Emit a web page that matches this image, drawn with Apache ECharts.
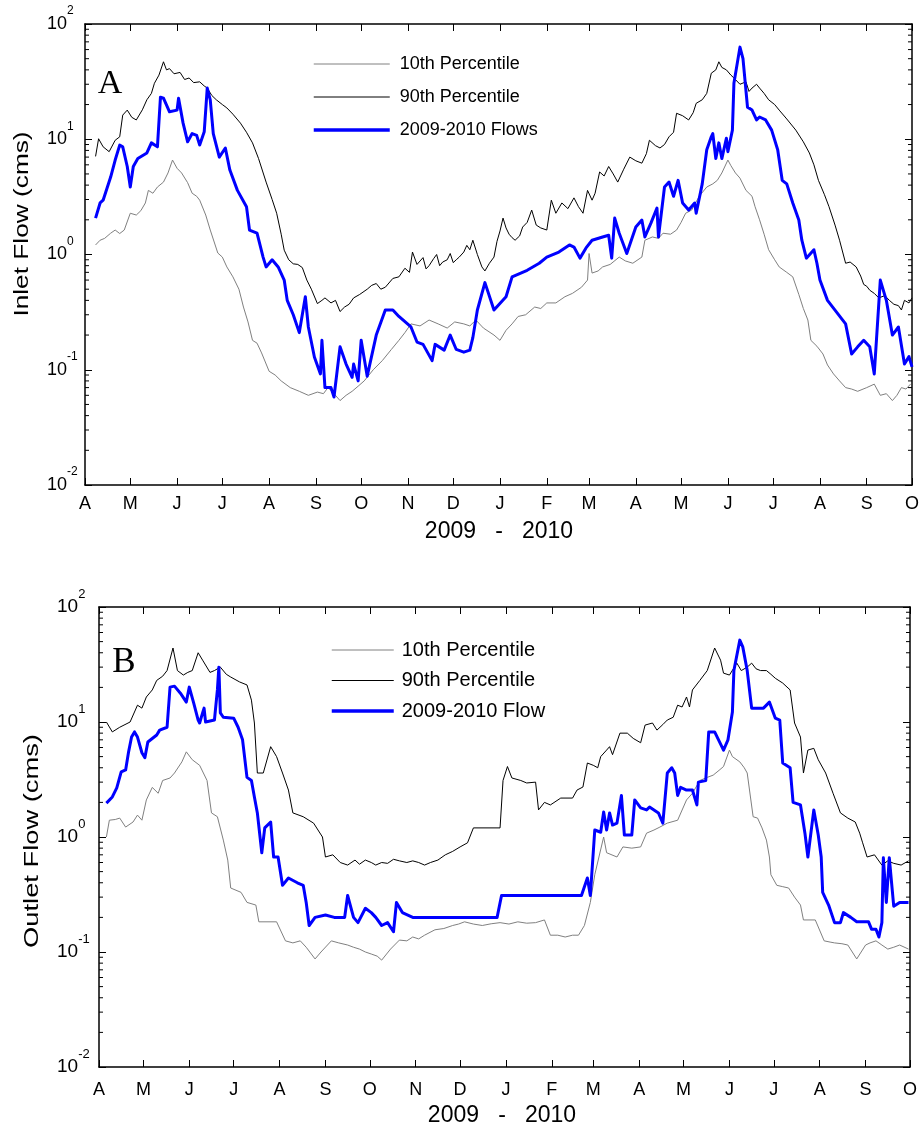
<!DOCTYPE html>
<html>
<head>
<meta charset="utf-8">
<script src="https://cdn.jsdelivr.net/npm/echarts@6/dist/echarts.min.js"></script>
<style>
  html, body { margin: 0; padding: 0; background: #fff; }
  #chart { width: 922px; height: 1128px; }
</style>
</head>
<body>
<div id="chart"></div>
<script>
// Daily axis: day 0 = 1 April 2009, day 548 = 1 October 2010
const dayCount = 549;
const monthLabels = ['A','M','J','J','A','S','O','N','D','J','F','M','A','M','J','J','A','S','O'];
const monthStartDays = [0,30,61,91,122,153,183,214,244,275,306,334,365,395,426,456,487,518,548];

// Flow series, [day, flow in cms]
const inletP10 = [[7,1.21],[10,1.33],[13,1.38],[17,1.53],[20,1.63],[23,1.52],[26,1.63],[30,2.28],[34,2.2],[37,2.4],[40,2.8],[42,3.6],[45,3.4],[48,3.85],[52,4.25],[55,5.1],[58,6.6],[61,5.6],[64,5.1],[68,4.2],[71,3.4],[74,3.2],[76,2.96],[80,2.2],[83,1.63],[88,1.03],[91,0.95],[94,0.78],[98,0.64],[102,0.5],[105,0.35],[108,0.26],[111,0.18],[114,0.17],[117,0.14],[122,0.097],[126,0.09],[130,0.08],[136,0.07],[142,0.065],[148,0.06],[154,0.064],[158,0.062],[161,0.07],[165,0.062],[169,0.054],[173,0.06],[177,0.065],[181,0.072],[185,0.08],[191,0.1],[197,0.12],[203,0.15],[208,0.18],[212,0.21],[216,0.25],[222,0.24],[228,0.27],[234,0.25],[240,0.23],[245,0.26],[251,0.25],[255,0.24],[259,0.27],[264,0.23],[271,0.2],[275,0.18],[279,0.22],[283,0.25],[287,0.29],[292,0.3],[298,0.35],[302,0.34],[306,0.38],[312,0.38],[318,0.43],[323,0.46],[329,0.52],[333,0.6],[334,1.02],[336,0.69],[340,0.72],[343,0.78],[348,0.82],[354,0.95],[358,0.88],[363,0.84],[369,0.95],[371,1.33],[376,1.42],[380,1.38],[383,1.53],[388,1.5],[392,1.63],[395,1.9],[398,2.28],[402,2.43],[407,3.2],[412,3.85],[416,4.1],[419,4.4],[422,5.1],[426,6.6],[428,5.9],[431,5.1],[434,4.6],[438,3.6],[442,3.2],[444,2.6],[447,2.0],[450,1.5],[453,1.1],[457,0.9],[460,0.78],[465,0.7],[469,0.64],[473,0.45],[476,0.34],[479,0.27],[481,0.18],[485,0.16],[489,0.137],[492,0.11],[496,0.092],[500,0.08],[504,0.07],[508,0.068],[512,0.065],[518,0.07],[523,0.075],[527,0.06],[531,0.062],[535,0.054],[538,0.06],[541,0.07],[544,0.068],[547,0.075]];
const inletP90 = [[7,7.1],[9,10.1],[12,8.6],[16,7.8],[20,9.8],[23,10.5],[25,16.2],[28,17.9],[31,15.5],[34,14.7],[38,18],[41,22],[44,25],[46,30.6],[49,36],[52,47],[54,40],[56,41],[59,37],[63,38],[66,33],[69,34],[72,31],[76,31.5],[79,29],[81,27.8],[84,24],[87,22],[91,20],[94,18.7],[98,16.5],[103,13.8],[107,11.5],[111,9.3],[115,6.8],[120,4.25],[124,3.0],[127,2.28],[130,1.5],[132,1.09],[135,0.9],[138,0.83],[141,0.82],[144,0.77],[147,0.6],[150,0.5],[154,0.375],[157,0.4],[159,0.42],[163,0.38],[166,0.4],[169,0.32],[172,0.35],[175,0.37],[178,0.42],[182,0.45],[187,0.5],[190,0.54],[193,0.56],[196,0.5],[199,0.52],[204,0.62],[208,0.64],[212,0.76],[215,0.7],[217,1.05],[220,0.82],[224,0.94],[226,0.75],[228,0.8],[231,0.92],[233,1.0],[235,0.8],[237,0.86],[240,0.9],[242,1.02],[244,0.85],[246,0.9],[248,0.95],[251,1.05],[253,1.2],[255,1.1],[257,1.33],[260,1.0],[263,0.78],[265,0.72],[268,0.84],[271,0.95],[273,1.3],[275,1.6],[277,2.07],[279,1.7],[281,1.5],[283,1.4],[285,1.33],[288,1.45],[290,1.73],[293,1.9],[296,2.43],[299,1.8],[302,1.7],[306,1.63],[309,2.96],[312,2.28],[316,2.8],[320,2.5],[324,3.1],[327,2.6],[330,2.28],[333,3.6],[336,2.96],[338,3.4],[341,5.2],[344,4.8],[347,5.8],[350,5.0],[353,4.25],[357,5.5],[361,7.0],[365,6.5],[369,6.2],[372,7.5],[374,9.8],[378,8.8],[381,8.4],[384,9.0],[387,10.5],[390,11.5],[392,16.8],[396,16],[400,14.7],[403,17],[405,20.5],[409,22],[412,25],[415,37.4],[418,40],[420,47],[422,42],[425,40],[428,36],[430,34],[434,30],[438,31.5],[440,26],[442,27.8],[445,30],[447,27.8],[450,25],[453,22],[457,20],[460,17.9],[465,15],[471,12],[476,9.5],[480,7.6],[483,6],[486,4.4],[490,3.3],[493,2.6],[497,1.8],[500,1.33],[504,0.84],[507,0.86],[511,0.78],[514,0.65],[516,0.55],[518,0.53],[520,0.49],[523,0.46],[526,0.42],[530,0.44],[533,0.4],[536,0.37],[539,0.36],[541,0.33],[543,0.4],[546,0.38],[548,0.42]];
const inletFlow = [[7,2.07],[10,2.8],[12,2.96],[17,4.7],[20,6.6],[23,8.9],[25,8.6],[28,5.8],[30,3.85],[32,5.8],[35,6.8],[41,7.6],[44,9.3],[48,8.6],[50,23.2],[52,22.7],[56,17.3],[61,17.9],[62,22.7],[65,13.8],[68,9.5],[71,11.2],[74,10.8],[76,8.9],[79,11.6],[81,27.8],[83,22],[85,11.2],[89,7.0],[93,8.4],[96,5.4],[101,3.6],[107,2.6],[109,1.63],[114,1.53],[118,0.95],[120,0.78],[124,0.9],[128,0.78],[132,0.6],[134,0.4],[138,0.3],[142,0.21],[146,0.43],[148,0.235],[152,0.129],[156,0.092],[157,0.18],[159,0.07],[163,0.07],[165,0.058],[169,0.158],[173,0.112],[177,0.086],[178,0.112],[181,0.08],[183,0.18],[187,0.088],[193,0.2],[199,0.33],[204,0.33],[208,0.29],[216,0.235],[220,0.174],[224,0.166],[230,0.12],[232,0.166],[238,0.148],[242,0.2],[246,0.15],[251,0.142],[255,0.148],[257,0.19],[260,0.33],[265,0.57],[271,0.33],[279,0.43],[283,0.64],[293,0.73],[301,0.84],[306,0.95],[314,1.05],[321,1.21],[324,1.16],[328,0.93],[332,1.14],[336,1.33],[343,1.42],[347,1.47],[349,0.93],[351,2.07],[354,1.53],[359,1.02],[362,1.33],[365,1.73],[369,1.99],[371,1.42],[375,1.87],[379,2.53],[380,1.42],[384,3.85],[387,4.25],[390,3.2],[393,4.4],[396,2.8],[400,2.43],[404,2.8],[405,2.28],[409,4.1],[412,8.1],[415,10.5],[416,11.2],[418,6.8],[420,9.3],[422,6.8],[425,10.2],[426,7.8],[429,12],[430,30.6],[434,63],[436,50],[439,19],[442,17.9],[445,14.7],[447,15.6],[451,14.7],[455,12],[459,8.1],[462,4.4],[465,4.1],[469,2.8],[473,1.99],[475,1.33],[478,0.93],[483,1.1],[485,0.84],[487,0.6],[492,0.4],[504,0.25],[508,0.137],[512,0.158],[516,0.18],[520,0.158],[523,0.092],[527,0.6],[531,0.4],[535,0.2],[539,0.235],[543,0.112],[546,0.13],[548,0.106]];

const outletP10 = [[5,1.0],[7,1.4],[11,1.42],[14,1.46],[18,1.22],[23,1.35],[26,1.55],[29,1.4],[32,2.1],[36,2.7],[40,2.4],[43,3.1],[48,3.26],[51,3.6],[56,4.5],[59,5.5],[63,4.7],[68,4.2],[73,3.1],[76,1.62],[80,1.5],[84,0.94],[87,0.63],[89,0.36],[96,0.33],[100,0.27],[106,0.256],[108,0.183],[120,0.183],[126,0.125],[131,0.12],[136,0.125],[140,0.11],[146,0.087],[150,0.1],[157,0.125],[162,0.12],[168,0.115],[172,0.11],[176,0.106],[180,0.1],[184,0.096],[188,0.092],[191,0.085],[197,0.106],[203,0.127],[208,0.125],[212,0.135],[216,0.13],[220,0.14],[227,0.156],[233,0.16],[239,0.17],[243,0.175],[247,0.183],[253,0.175],[259,0.17],[265,0.176],[271,0.18],[277,0.175],[283,0.183],[289,0.178],[295,0.18],[301,0.19],[305,0.14],[310,0.14],[315,0.135],[320,0.14],[324,0.14],[328,0.17],[332,0.27],[335,0.47],[341,1.0],[343,0.73],[350,0.67],[354,0.82],[360,0.8],[366,0.82],[370,1.08],[375,1.15],[379,1.22],[384,1.32],[391,1.4],[397,2.1],[401,2.4],[406,3.1],[411,3.3],[415,3.45],[419,3.8],[422,4.1],[426,5.7],[428,5.0],[433,4.5],[436,4.0],[438,3.6],[442,1.5],[445,1.46],[448,1.2],[451,0.94],[453,0.67],[454,0.47],[458,0.38],[462,0.37],[466,0.36],[470,0.3],[474,0.256],[476,0.19],[484,0.19],[490,0.125],[494,0.122],[497,0.12],[502,0.118],[506,0.115],[512,0.087],[518,0.115],[521,0.12],[525,0.125],[529,0.115],[533,0.106],[537,0.11],[541,0.115],[547,0.106]];
const outletP90 = [[5,10],[9,8.2],[14,9.0],[21,10],[26,14],[29,13.2],[32,16.5],[36,19],[39,23],[43,25],[46,28],[50,44],[53,28],[57,25.6],[60,27],[63,28],[67,40],[70,34.5],[75,27],[78,28],[82,30],[86,26],[89,24.6],[95,22.3],[100,21],[103,15.5],[105,9.8],[107,3.6],[111,3.6],[116,6.1],[120,5.0],[124,3.6],[128,2.56],[131,1.62],[138,1.5],[145,1.32],[151,1.0],[153,0.67],[158,0.7],[163,0.6],[168,0.57],[173,0.63],[176,0.58],[180,0.63],[184,0.6],[187,0.57],[191,0.6],[195,0.59],[199,0.64],[203,0.62],[208,0.6],[212,0.62],[216,0.6],[220,0.57],[224,0.6],[229,0.63],[234,0.7],[239,0.75],[244,0.82],[249,0.89],[253,1.2],[271,1.2],[273,3.1],[276,4.1],[279,3.26],[285,3.1],[289,2.95],[295,3.0],[297,1.72],[301,2.0],[305,1.9],[312,2.18],[320,2.18],[323,2.56],[327,2.72],[330,4.4],[334,4.2],[337,4.0],[339,5.0],[343,5.7],[345,6.1],[347,5.2],[352,8.0],[357,8.0],[361,7.2],[366,6.6],[369,9.4],[374,9.8],[377,8.5],[381,9.5],[384,10.4],[388,11.0],[391,14],[394,13.5],[397,16.5],[399,13.5],[401,19],[406,23],[411,28],[416,44],[420,34.5],[422,26.6],[426,25.6],[431,32.5],[434,28],[438,30],[441,32.5],[444,29],[447,28],[451,28],[454,26],[457,24],[462,21.8],[467,19],[470,9.8],[474,7.4],[476,3.6],[479,5.7],[483,5.9],[486,4.7],[491,3.6],[496,2.4],[501,1.62],[506,1.46],[511,1.35],[514,1.08],[516,0.89],[519,0.67],[524,0.7],[529,0.57],[533,0.62],[537,0.59],[542,0.57],[547,0.62]];
const outletFlow = [[5,1.97],[9,2.23],[12,2.67],[15,3.68],[18,3.83],[20,5.5],[22,7.4],[24,8.2],[26,7.4],[29,5.4],[31,4.9],[33,6.7],[39,7.7],[41,8.5],[46,9.0],[48,20.1],[51,20.5],[55,17.8],[59,14.9],[61,20.1],[64,14.6],[67,10.4],[68,9.8],[70,12],[71,13.2],[72,10],[78,10.4],[80,19],[81,30],[82,12],[84,11],[91,10.8],[94,9.0],[97,7.0],[100,3.3],[103,3.1],[105,2.23],[107,1.62],[110,0.73],[112,1.2],[116,1.35],[118,0.67],[121,0.67],[124,0.38],[128,0.44],[134,0.4],[138,0.38],[140,0.27],[142,0.17],[146,0.2],[153,0.21],[159,0.2],[166,0.2],[168,0.31],[172,0.2],[175,0.18],[180,0.24],[184,0.22],[187,0.2],[191,0.17],[195,0.18],[199,0.15],[201,0.27],[205,0.22],[212,0.2],[269,0.2],[272,0.31],[326,0.31],[330,0.44],[332,0.31],[335,1.15],[339,1.1],[341,1.65],[343,1.15],[345,1.62],[347,1.27],[350,1.32],[353,2.3],[355,1.04],[360,1.04],[362,2.1],[366,1.79],[370,1.72],[372,1.82],[378,1.62],[381,1.32],[384,3.6],[387,4.0],[389,3.6],[391,2.3],[393,2.7],[397,2.56],[401,2.56],[404,1.9],[405,3.0],[410,3.1],[412,8.2],[416,8.2],[422,5.7],[425,7.0],[428,12.2],[429,28],[433,51.5],[435,45],[438,28],[441,13.2],[449,13.2],[453,14.9],[457,10.8],[460,10.4],[462,4.4],[467,4.0],[469,2.0],[474,1.9],[477,1.08],[479,0.67],[483,1.72],[486,1.04],[488,0.67],[489,0.33],[493,0.256],[497,0.18],[501,0.18],[503,0.22],[508,0.2],[512,0.183],[520,0.183],[522,0.158],[525,0.158],[527,0.135],[529,0.18],[530,0.66],[532,0.27],[534,0.66],[537,0.25],[541,0.27],[547,0.27]];

// Minor log ticks (2..9 within each decade)
const minorTickValues = [];
[0.01, 0.1, 1, 10].forEach(d => { for (let k = 2; k <= 9; k++) minorTickValues.push(+(k * d).toPrecision(3)); });

const FONT = "'Liberation Sans', Arial, Helvetica, sans-serif";
const SERIF = "'Liberation Serif', 'Times New Roman', serif";

const labelByDay = {};
monthStartDays.forEach((d, i) => { labelByDay[d] = monthLabels[i]; });
const dayCats = Array.from({ length: dayCount }, (_, i) => String(i));
const isMonthStart = (idx) => labelByDay[idx] !== undefined;

function xAxes(gridIndex, labelMargin, fontSize) {
  const common = {
    type: 'category', gridIndex, data: dayCats, boundaryGap: false,
    axisLine: { show: true, lineStyle: { color: '#000', width: 1.5 } },
    axisTick: { show: true, inside: true, length: 7, interval: isMonthStart, lineStyle: { color: '#000', width: 1 } },
    splitLine: { show: false }
  };
  return [
    Object.assign({}, common, {
      position: 'bottom',
      axisLabel: {
        show: true, interval: isMonthStart, margin: labelMargin,
        formatter: (v, idx) => labelByDay[idx] || '',
        fontFamily: FONT, fontSize, color: '#000'
      }
    }),
    Object.assign({}, common, { position: 'top', axisLabel: { show: false } })
  ];
}

function yAxes(gridIndex, labelMargin, baseSize, supSize) {
  const common = {
    type: 'log', logBase: 10, gridIndex, min: 0.01, max: 100,
    axisLine: { show: true, lineStyle: { color: '#000', width: 1.5 } },
    axisTick: { show: true, inside: true, length: 7, lineStyle: { color: '#000', width: 1 } },
    minorTick: { show: false },
    splitLine: { show: false }
  };
  return [
    Object.assign({}, common, {
      position: 'left',
      axisLabel: {
        show: true, align: 'left', margin: labelMargin,
        formatter: v => '{b|10}{s|' + Math.round(Math.log10(v)) + '}',
        rich: {
          b: { fontFamily: FONT, fontSize: baseSize, color: '#000', lineHeight: 38, verticalAlign: 'middle' },
          s: { fontFamily: FONT, fontSize: supSize, color: '#000', lineHeight: supSize, verticalAlign: 'top' }
        }
      }
    }),
    Object.assign({}, common, { position: 'right', axisLabel: { show: false } })
  ];
}

function lineSeries(name, data, gridIdx, color, width) {
  return {
    type: 'line', name, data,
    xAxisIndex: gridIdx * 2, yAxisIndex: gridIdx * 2,
    symbol: 'none', showSymbol: false, smooth: false,
    lineStyle: { color, width, join: 'round' },
    itemStyle: { color },
    emphasis: { disabled: true }
  };
}

function minorTickSeries(gridIdx) {
  return {
    type: 'custom', name: 'minorTicks', silent: true, clip: false, z: 5,
    xAxisIndex: gridIdx * 2, yAxisIndex: gridIdx * 2,
    data: minorTickValues.map(v => [0, v]),
    renderItem: (params, api) => {
      const y = api.coord([0, api.value(1)])[1];
      const cs = params.coordSys;
      const st = { stroke: '#000', lineWidth: 1 };
      return {
        type: 'group', children: [
          { type: 'line', shape: { x1: cs.x, y1: y, x2: cs.x + 4, y2: y }, style: st },
          { type: 'line', shape: { x1: cs.x + cs.width - 4, y1: y, x2: cs.x + cs.width, y2: y }, style: st }
        ]
      };
    }
  };
}

const GRAY = '#808080', BLACK = '#000000', BLUE = '#0000ff';

// Legend shows plain line samples only
const legendCommon = {
  orient: 'vertical', padding: 0, selectedMode: false,
  itemHeight: 20,
  itemStyle: { opacity: 0, borderWidth: 0 }
};
const legendItems = (flowName) => [
  { name: '10th Percentile', lineStyle: { color: GRAY, width: 1 } },
  { name: '90th Percentile', lineStyle: { color: BLACK, width: 1 } },
  { name: flowName, lineStyle: { color: BLUE, width: 3.5 } }
];

const option = {
  animation: false,
  backgroundColor: '#fff',
  grid: [
    { left: 85, top: 24, width: 828, height: 461 },
    { left: 99, top: 607, width: 811, height: 460 }
  ],
  xAxis: [...xAxes(0, 10, 18), ...xAxes(1, 14, 18)],
  yAxis: [...yAxes(0, 38, 18, 12), ...yAxes(1, 42, 19, 13)],
  legend: [
    Object.assign({}, legendCommon, {
      data: legendItems('2009-2010 Flows'),
      left: 312, top: 54, itemWidth: 76, itemGap: 13,
      textStyle: { fontFamily: FONT, fontSize: 18, color: '#000', lineHeight: 20, padding: [0, 0, 0, 5] }
    }),
    Object.assign({}, legendCommon, {
      data: legendItems('2009-2010 Flow'),
      left: 330, top: 640, itemWidth: 62, itemGap: 10.5,
      textStyle: { fontFamily: FONT, fontSize: 20, color: '#000', lineHeight: 20, padding: [0, 0, 0, 3] }
    })
  ],
  series: [
    lineSeries('10th Percentile', inletP10, 0, GRAY, 1),
    lineSeries('90th Percentile', inletP90, 0, BLACK, 1),
    lineSeries('2009-2010 Flows', inletFlow, 0, BLUE, 3),
    minorTickSeries(0),
    lineSeries('10th Percentile', outletP10, 1, GRAY, 1),
    lineSeries('90th Percentile', outletP90, 1, BLACK, 1),
    lineSeries('2009-2010 Flow', outletFlow, 1, BLUE, 3),
    minorTickSeries(1)
  ],
  graphic: [
    { type: 'text', x: 110, y: 84, style: { text: 'A', font: '34px ' + SERIF, fill: '#000', align: 'center', verticalAlign: 'middle' } },
    { type: 'text', x: 124, y: 663, style: { text: 'B', font: '35px ' + SERIF, fill: '#000', align: 'center', verticalAlign: 'middle' } },
    { type: 'text', x: 22, y: 224, rotation: Math.PI / 2, scaleX: 1.25, style: { text: 'Inlet Flow (cms)', font: '21px ' + FONT, fill: '#000', align: 'center', verticalAlign: 'middle' } },
    { type: 'text', x: 32, y: 841, rotation: Math.PI / 2, scaleX: 1.3, style: { text: 'Outlet Flow (cms)', font: '21px ' + FONT, fill: '#000', align: 'center', verticalAlign: 'middle' } },
    { type: 'text', x: 499, y: 532, style: { text: '2009   -   2010', font: '23px ' + FONT, fill: '#000', align: 'center', verticalAlign: 'middle' } },
    { type: 'text', x: 502, y: 1116, style: { text: '2009   -   2010', font: '23px ' + FONT, fill: '#000', align: 'center', verticalAlign: 'middle' } }
  ]
};

const chart = echarts.init(document.getElementById('chart'), null, { renderer: 'canvas' });
chart.setOption(option);
</script>
</body>
</html>
